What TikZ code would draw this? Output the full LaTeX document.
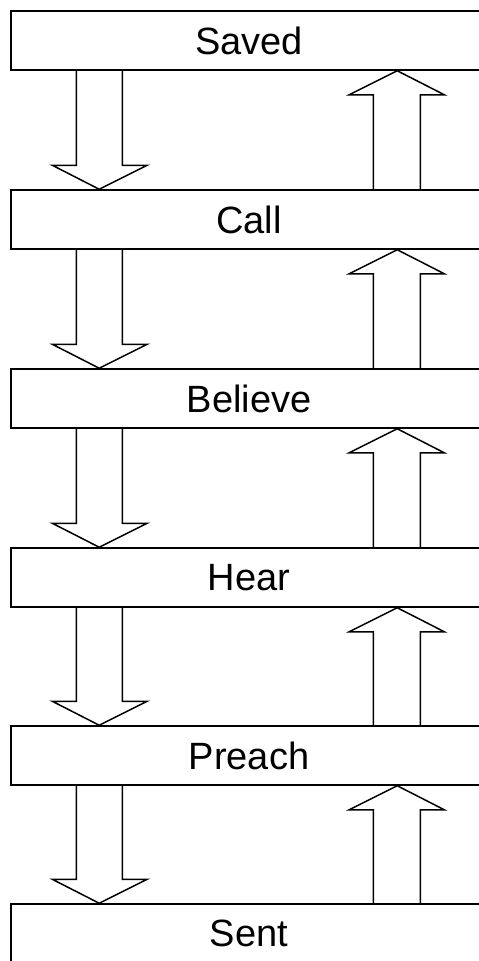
\documentclass[tikz,border=0pt]{standalone}
\usepackage{fontspec}
\setmainfont{Liberation Sans}
\usetikzlibrary{calc}
\tikzset{
  stage/.style={draw, line width=1.5pt, fill=white, rectangle,
    minimum width=476pt, minimum height=59pt, inner sep=0pt,
    font=\fontsize{38}{40}\selectfont},
  fatarrow/.style={draw, line width=1.5pt, line join=miter}
}
\begin{document}
\begin{tikzpicture}[x=1pt,y=-1pt]
  \useasboundingbox (0,0) rectangle (479,961);
  \clip (0,0) rectangle (479,961);
  % stacked stages
  \node[stage] (s1) at (249, 40.5)  {Saved};
  \node[stage] (s2) at (249, 219.5) {Call};
  \node[stage] (s3) at (249, 398.5) {Believe};
  \node[stage] (s4) at (249, 577.5) {Hear};
  \node[stage] (s5) at (249, 755.5) {Preach};
  \node[stage] (s6) at (249, 933.5) {Sent};
  % block arrows between neighbouring stages
  \foreach \a/\b in {s1/s2, s2/s3, s3/s4, s4/s5, s5/s6} {
    % downward arrow on the left
    \draw[fatarrow] ($(\a.south west)+(66,0)$)
      -- ($(\b.north west)+(66,-24)$)
      -- ($(\b.north west)+(42,-24)$)
      -- ($(\b.north west)+(89,0)$)
      -- ($(\b.north west)+(137,-24)$)
      -- ($(\b.north west)+(112,-24)$)
      -- ($(\a.south west)+(112,0)$);
    % upward arrow on the right
    \draw[fatarrow] ($(\b.north west)+(363,0)$)
      -- ($(\a.south west)+(363,24)$)
      -- ($(\a.south west)+(339,24)$)
      -- ($(\a.south west)+(387,0)$)
      -- ($(\a.south west)+(434,24)$)
      -- ($(\a.south west)+(410,24)$)
      -- ($(\b.north west)+(410,0)$);
  }
\end{tikzpicture}
\end{document}
